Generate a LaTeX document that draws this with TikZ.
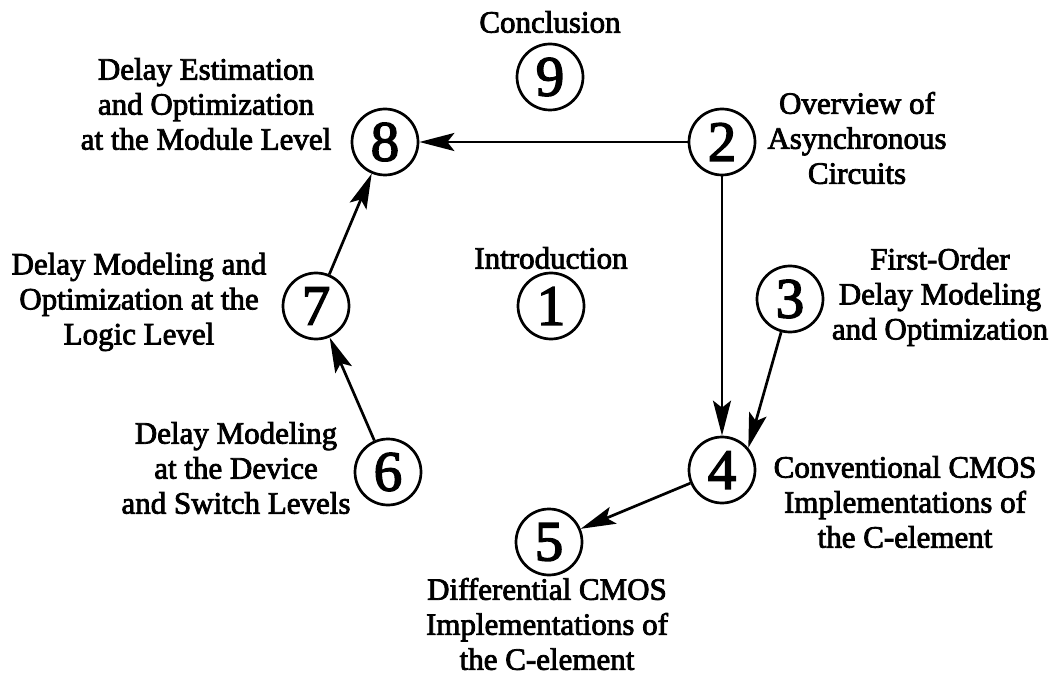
\documentclass[tikz,border=0pt]{standalone}
\usepackage{fontspec}
\setmainfont{Liberation Serif}
% a heavier cut of the roman face, like dark print
\newfontfamily\inkfont[FakeBold=2.6]{Liberation Serif}
\usetikzlibrary{arrows.meta}
\begin{document}
\begin{tikzpicture}[x=1pt,y=-1pt,
  stage/.style={circle, draw, line width=2.7pt, minimum size=66pt, inner sep=0pt,
    font=\inkfont\fontsize{57}{57}\selectfont},
  caption/.style={align=center, inner sep=0pt,
    font=\inkfont\fontsize{31}{35}\selectfont},
  flow/.style={line width=2.7pt, -{Stealth[length=35pt, width=18pt, inset=7pt]}}]
\useasboundingbox (0,0) rectangle (1053,687);

% chapter circles
\node[stage] (c9) at (550,77)  {9};
\node[stage] (c8) at (385,142) {8};
\node[stage] (c2) at (722,142) {2};
\node[stage] (c1) at (551,306) {1};
\node[stage] (c7) at (316,306) {7};
\node[stage] (c3) at (790,299) {3};
\node[stage] (c6) at (388,472) {6};
\node[stage] (c4) at (722,470) {4};
\node[stage] (c5) at (549,542) {5};

% chapter titles
\node[caption] (t9) at (550,22)  {Conclusion};
\node[caption] (t8) at (206,104) {Delay Estimation\\and Optimization\\at the Module Level};
\node[caption] (t2) at (857,138) {Overview of\\Asynchronous\\Circuits};
\node[caption] (t1) at (551,258) {Introduction};
\node[caption] (t7) at (139,302) {Delay Modeling and\\Optimization at the\\Logic Level};
\node[caption] (t3) at (940,297) {First-Order\\Delay Modeling\\and Optimization};
\node[caption] (t6) at (236,468) {Delay Modeling\\at the Device\\and Switch Levels};
\node[caption] (t4) at (905,502) {Conventional CMOS\\Implementations of\\the C-element};
\node[caption] (t5) at (547,624) {Differential CMOS\\Implementations of\\the C-element};

% reading order
\draw[flow] (c2) -- (c8);
\draw[flow] (c2) -- (c4);
\draw[flow] (c3.-105) -- (c4.40);
\draw[flow] (c4) -- (c5);
\draw[flow] (c6) -- (c7);
\draw[flow] (c7) -- (c8);
\end{tikzpicture}
\end{document}
